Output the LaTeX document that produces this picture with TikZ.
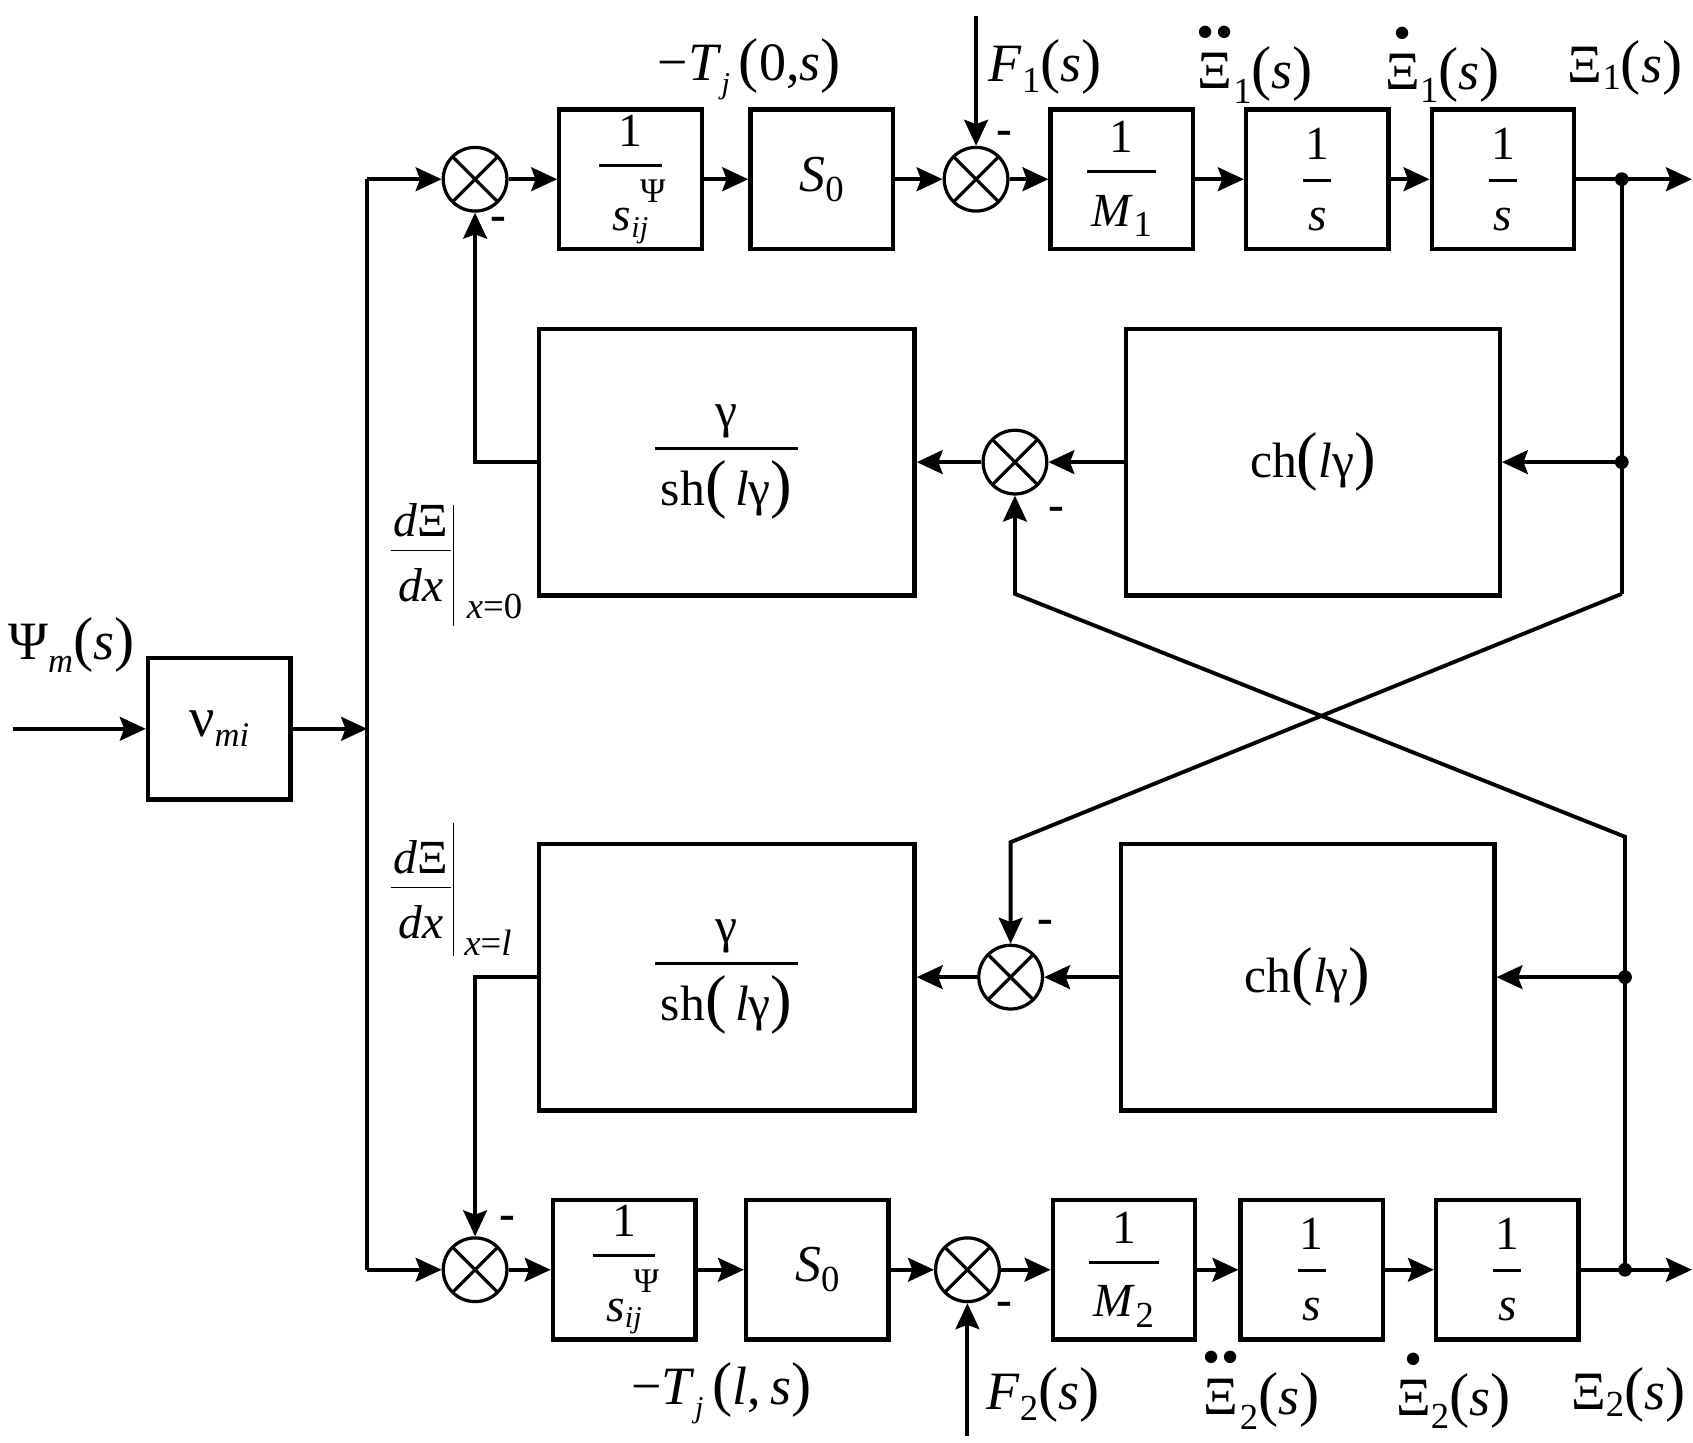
\documentclass[tikz,border=0pt]{standalone}
\usepackage{fontspec}
\setmainfont{Liberation Serif}
\usetikzlibrary{arrows.meta}
\newcommand{\fsz}[1]{\fontsize{#1}{#1}\selectfont}
\newcommand{\lsb}[3]{\raisebox{-#1}{\fsz{#2}#3}}
\newcommand{\bp}[1]{{\fsz{28}#1}}
\newcommand{\bpc}[1]{{\fsz{30}#1}}
\newcommand{\fr}[6][1.5pt]{\vbox{\offinterlineskip\halign{\hfil##\hfil\cr#2\cr\noalign{\kern#5}\rule{#4}{#1}\cr\noalign{\kern#6}#3\cr}}}
\newcommand{\accd}[2]{\vbox{\offinterlineskip\halign{\hfil##\hfil\cr{\fsz{24}#1}\cr\noalign{\kern2pt}#2\cr}}}
\newcommand{\sij}{\textit{s}\rlap{\hspace{4pt}\raisebox{13pt}{\fsz{16}Ψ}}\raisebox{-3pt}{\fsz{14}\textit{ij}}}
\begin{document}
\begin{tikzpicture}[x=0.5pt,y=-0.5pt,
  blk/.style={draw, line width=2pt, minimum width=66pt, minimum height=64.5pt, inner sep=0pt, font=\fsz{22}},
  bigblk/.style={draw, line width=2pt, minimum width=174pt, minimum height=123.5pt, inner sep=0pt, font=\fsz{23}},
  sum/.style={circle, draw, line width=1.5pt, minimum size=29.5pt, inner sep=0pt,
    path picture={\draw[line width=1.5pt] (path picture bounding box.north west) -- (path picture bounding box.south east)
      (path picture bounding box.north east) -- (path picture bounding box.south west);}},
  lbl/.style={inner sep=0pt, font=\fsz{25}},
  neg/.style={inner sep=0pt, font=\fsz{22}\bfseries},
  conn/.style={line width=1.8pt, -{Stealth[length=12pt,width=11pt,inset=2pt]}},
  wire/.style={line width=1.8pt},
  smallbar/.style={line width=0.6pt}]
\useasboundingbox (0,0) rectangle (1568,1336);

% ---- top row
\node[sum] (s1) at (440,166) {};
\node[blk] (A1) at (584,166) {\fr{1}{\sij}{29pt}{8pt}{6pt}};
\node[blk] (S0a) at (761,166) {\fsz{24}\textit{S}\lsb{4.5pt}{17}{0}};
\node[sum] (s2) at (904,166) {};
\node[blk] (M1) at (1039,166) {\fr{1}{\textit{M}\lsb{5pt}{17}{1}}{32pt}{8pt}{10pt}};
\node[blk] (I1a) at (1220,166) {\fr{1}{\textit{s}}{13pt}{9pt}{12pt}};
\node[blk] (I1b) at (1392,166) {\fr{1}{\textit{s}}{13pt}{9pt}{12pt}};

% ---- upper middle
\node[bigblk] (G1) at (673,428) {\fr{γ}{sh\bpc{(}\,\textit{l}γ\bpc{)}}{66pt}{4pt}{5pt}};
\node[sum] (s3) at (940,428) {};
\node[bigblk, minimum width=173pt] (C1) at (1216,428) {ch\bpc{(}\textit{l}γ\bpc{)}};

% ---- lower middle
\node[bigblk] (G2) at (673,905) {\fr{γ}{sh\bpc{(}\,\textit{l}γ\bpc{)}}{66pt}{4pt}{5pt}};
\node[sum] (s4) at (936,905) {};
\node[bigblk, minimum width=173pt] (C2) at (1211,905) {ch\bpc{(}\textit{l}γ\bpc{)}};

% ---- bottom row
\node[sum] (s5) at (440,1176) {};
\node[blk] (A2) at (578,1176) {\fr{1}{\sij}{29pt}{8pt}{6pt}};
\node[blk] (S0b) at (757,1176) {\fsz{24}\textit{S}\lsb{4.5pt}{17}{0}};
\node[sum] (s6) at (896,1176) {};
\node[blk] (M2) at (1041,1176) {\fr{1}{\textit{M}\lsb{5pt}{17}{2}}{32pt}{8pt}{10pt}};
\node[blk] (I2a) at (1215,1176) {\fr{1}{\textit{s}}{13pt}{9pt}{12pt}};
\node[blk] (I2b) at (1396,1176) {\fr{1}{\textit{s}}{13pt}{9pt}{12pt}};

% ---- input block
\node[blk, minimum height=65.5pt, font=\fsz{26}] (Nu) at (203,675) {ν\lsb{4.5pt}{16}{\textit{mi}}};

% ---- coordinates
\coordinate (busT) at (340,166);
\coordinate (busM) at (340,675);
\coordinate (busB) at (340,1176);
\coordinate (in0) at (12,675);
\coordinate (f1) at (904,15);
\coordinate (f2) at (896,1330);
\coordinate (o1) at (1567,166);
\coordinate (o2) at (1567,1176);
\coordinate (j1) at (1502,166);
\coordinate (j2) at (1502,428);
\coordinate (j1b) at (1502,550);
\coordinate (k1) at (936,780);
\coordinate (j3) at (1505,775);
\coordinate (k2) at (940,550);
\coordinate (j4) at (1505,905);
\coordinate (j5) at (1505,1176);

% ---- connectors
\draw[wire] (busT) -- (busB);
\draw[conn] (busT) -- (s1);
\draw[conn] (s1) -- (A1);
\draw[conn] (A1) -- (S0a);
\draw[conn] (S0a) -- (s2);
\draw[conn] (s2) -- (M1);
\draw[conn] (M1) -- (I1a);
\draw[conn] (I1a) -- (I1b);
\draw[conn] (I1b) -- (o1);
\draw[conn] (f1) -- (s2);
\draw[wire] (j1) -- (j1b);
\draw[conn] (j2) -- (C1);
\draw[conn] (C1) -- (s3);
\draw[conn] (s3) -- (G1);
\draw[conn] (G1.west) -| (s1.south);
\draw[conn] (j1b) -- (k1) -- (s4.north);
\draw[conn] (j5) -- (j3) -- (k2) -- (s3.south);
\draw[conn] (j4) -- (C2);
\draw[conn] (C2) -- (s4);
\draw[conn] (s4) -- (G2);
\draw[conn] (G2.west) -| (s5.north);
\draw[conn] (busB) -- (s5);
\draw[conn] (s5) -- (A2);
\draw[conn] (A2) -- (S0b);
\draw[conn] (S0b) -- (s6);
\draw[conn] (s6) -- (M2);
\draw[conn] (M2) -- (I2a);
\draw[conn] (I2a) -- (I2b);
\draw[conn] (I2b) -- (o2);
\draw[conn] (f2) -- (s6);
\draw[conn] (in0) -- (Nu);
\draw[conn] (Nu) -- (busM);
\foreach \p in {j1,j2,j4,j5} \fill (\p) circle (3.2pt);

% ---- minus signs
\node[neg] (m1) at (462,207) {-};
\node[neg] (m2) at (930,128) {-};
\node[neg] (m3) at (978,476) {-};
\node[neg] (m4) at (968,858) {-};
\node[neg] (m5) at (470,1133) {-};
\node[neg] (m6) at (930,1212) {-};

% ---- signal labels
\node[lbl] (lT0) at (694,64) {−\textit{T}\lsb{6pt}{14}{\textit{j}}\,\bp{(}0,\textit{s}\bp{)}};
\node[lbl] (lF1) at (968,62) {\textit{F}\lsb{5pt}{17}{1}\bp{(}\textit{s}\bp{)}};
\node[lbl] (lX1a) at (1162,60) {\accd{\textbullet\kern0.02em\textbullet}{Ξ}\lsb{7pt}{17}{1}\bp{(}\textit{s}\bp{)}};
\node[lbl] (lX1b) at (1336,60) {\accd{\textbullet}{Ξ}\lsb{6pt}{17}{1}\bp{(}\textit{s}\bp{)}};
\node[lbl] (lX1) at (1505,63) {Ξ\lsb{3pt}{17}{1}\bp{(}\textit{s}\bp{)}};
\node[lbl] (lTl) at (668,1290) {−\textit{T}\lsb{6pt}{14}{\textit{j}}\,\bp{(}\textit{l},\,\textit{s}\bp{)}};
\node[lbl] (lF2) at (966,1292) {\textit{F}\lsb{5pt}{17}{2}\bp{(}\textit{s}\bp{)}};
\node[lbl] (lX2a) at (1168,1288) {\accd{\textbullet\kern0.02em\textbullet}{Ξ}\lsb{7pt}{17}{2}\bp{(}\textit{s}\bp{)}};
\node[lbl] (lX2b) at (1346,1288) {\accd{\textbullet}{Ξ}\lsb{6pt}{17}{2}\bp{(}\textit{s}\bp{)}};
\node[lbl] (lX2) at (1508,1292) {Ξ\lsb{3pt}{17}{2}\bp{(}\textit{s}\bp{)}};
\node[lbl] (lPsi) at (66,597) {Ψ\lsb{6pt}{16}{\textit{m}}\bp{(}\textit{s}\bp{)}};

% ---- derivative labels
\node[inner sep=0pt, font=\fsz{22}] (d0) at (390,512) {\fr[0.6pt]{\textit{d}Ξ}{\textit{dx}}{28pt}{6pt}{8pt}};
\draw[smallbar] (420,468) -- (420,580);
\node[inner sep=0pt, font=\fsz{17}] (d0s) at (458,562) {\textit{x}=0};
\node[inner sep=0pt, font=\fsz{22}] (d1) at (390,824) {\fr[0.6pt]{\textit{d}Ξ}{\textit{dx}}{28pt}{6pt}{8pt}};
\draw[smallbar] (420,762) -- (420,885);
\node[inner sep=0pt, font=\fsz{17}] (d1s) at (452,873) {\textit{x}=\textit{l}};
\end{tikzpicture}
\end{document}
